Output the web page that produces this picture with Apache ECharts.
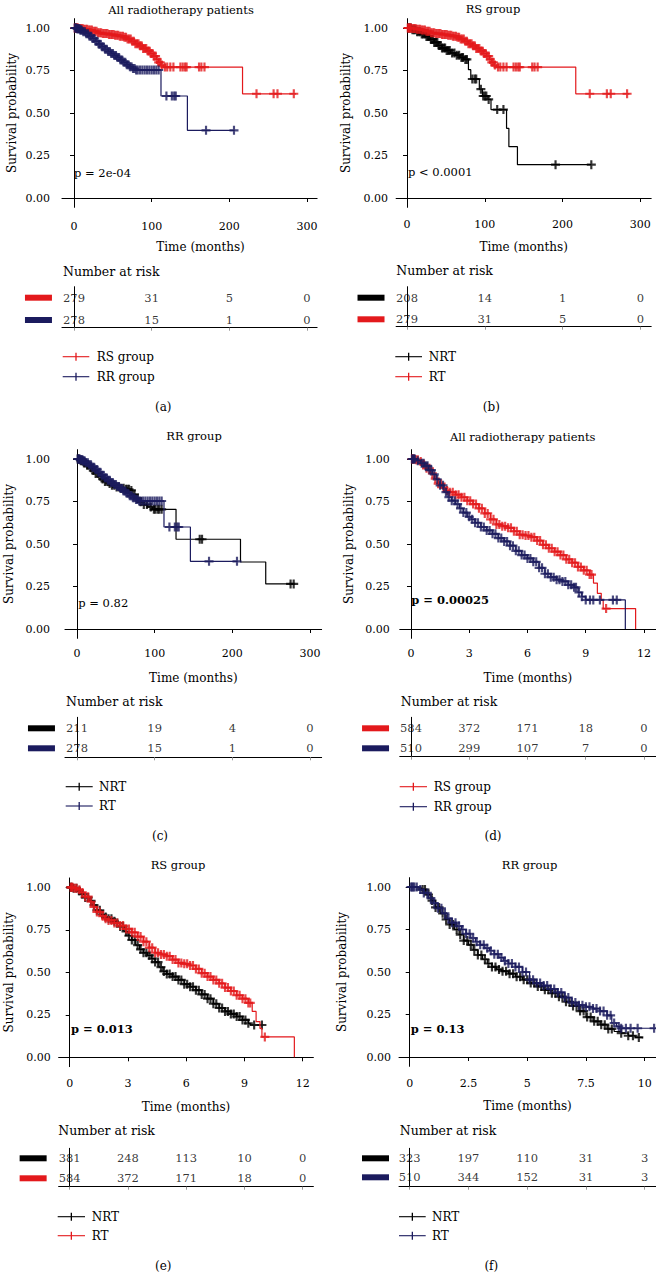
<!DOCTYPE html>
<html><head><meta charset="utf-8">
<script src="https://cdn.jsdelivr.net/npm/echarts@6/dist/echarts.min.js"></script>
<style>html,body{margin:0;padding:0;background:#fff}#c{width:656px;height:1274px}</style>
</head><body><div id="c"></div>
<script>
const FONT = '"DejaVu Serif", serif';
const RED = '#e3191c', NAVY = '#1b1b5e', BLACK = '#000000';

// ---------- tick labels ----------
const ticksMonths = [0, 100, 200, 300];
const ticks12 = [0, 3, 6, 9, 12];
const ticks10 = [0, 2.5, 5, 7.5, 10];
const survTicks = [0, 0.25, 0.5, 0.75, 1];

// ---------- KM curves (time, survival) and censor times ----------
// RS group, all radiotherapy patients (months scale) – panels a, b
const rsAllSteps = [[0,1],[6,0.997],[12,0.993],[18,0.988],[24,0.981],[30,0.972],[36,0.967],[44,0.962],[52,0.957],[58,0.952],[64,0.945],[69,0.935],[74,0.922],[79,0.908],[84,0.895],[89,0.88],[94,0.865],[98,0.85],[102,0.835],[106,0.815],[109,0.798],[112,0.782],[115,0.77],[217,0.613],[286,0.613]];
const rsAllCensor = [1,2,3,4,5,7,9,11,13,15,17,19,21,23,25,27,29,31,33,35,37,39,41,43,45,47,49,51,53,55,57,59,61,63,65,67,69,71,73,75,77,79,81,83,85,87,89,91,93,95,97,99,101,103,105,107,109,111,113,117,120,124,128,137,140,143,145,161,164,168,235,257,262,283];
// RR group, all radiotherapy patients – panels a, c
const rrAllSteps = [[0,1],[4,0.996],[8,0.988],[12,0.978],[16,0.966],[20,0.952],[24,0.938],[28,0.922],[32,0.905],[36,0.89],[40,0.875],[44,0.862],[48,0.85],[52,0.838],[56,0.826],[60,0.812],[64,0.798],[68,0.784],[72,0.772],[76,0.762],[80,0.753],[112,0.6],[146,0.398],[207,0.398]];
const rrAllCensor = [1,2,3,4,5,6,7,8,9,10,12,14,16,18,20,22,24,26,28,30,32,34,36,38,40,42,44,46,48,50,52,54,56,58,60,62,64,66,68,70,72,74,76,78,80,82,85,88,91,94,97,100,103,106,109,119,126,129,131,170,206];
// NRT in RS group – panel b
const nrtRsSteps = [[0,1],[6,0.99],[12,0.978],[18,0.965],[24,0.95],[30,0.933],[35,0.915],[40,0.897],[45,0.882],[50,0.868],[56,0.853],[62,0.84],[68,0.827],[73,0.815],[79,0.755],[82,0.7],[93,0.64],[97,0.6],[104,0.58],[108,0.52],[128,0.41],[131,0.302],[142,0.196],[237,0.196]];
const nrtRsCensor = [2,3,5,7,9,11,13,15,17,19,21,23,25,27,29,31,33,35,37,39,41,43,45,47,49,51,53,55,58,61,64,67,70,72,75,77,84,87,89,95,98,100,102,105,116,124,191,237];
// NRT in RR group – panel c
const nrtRrSteps = [[0,1],[4,0.99],[8,0.977],[12,0.963],[16,0.948],[20,0.932],[24,0.915],[28,0.898],[32,0.882],[36,0.868],[40,0.856],[45,0.846],[50,0.836],[56,0.828],[62,0.822],[68,0.815],[72,0.792],[76,0.768],[80,0.748],[85,0.732],[91,0.718],[97,0.704],[127.5,0.528],[210.5,0.394],[243,0.265],[279,0.265]];
const nrtRrCensor = [1,3,5,7,9,11,13,15,18,21,24,27,30,33,36,39,42,45,48,51,54,57,60,63,65,67,70,74,78,82,86,90,95,99,101,104,106,109,158,161,275,279];

// RS group (time scale 0-12) – panels d, e
const rsTSteps = [[0,1],[0.2,0.995],[0.4,0.985],[0.6,0.97],[0.8,0.945],[1.0,0.915],[1.2,0.885],[1.4,0.855],[1.6,0.83],[1.8,0.815],[2.0,0.805],[2.3,0.79],[2.6,0.775],[2.9,0.755],[3.2,0.735],[3.5,0.71],[3.8,0.68],[4.1,0.645],[4.4,0.615],[4.7,0.605],[5.0,0.595],[5.3,0.575],[5.6,0.555],[5.9,0.55],[6.2,0.54],[6.5,0.52],[6.8,0.495],[7.1,0.475],[7.4,0.455],[7.7,0.435],[8.0,0.41],[8.3,0.39],[8.6,0.365],[8.9,0.345],[9.2,0.32],[9.4,0.27],[9.6,0.21],[9.8,0.17],[9.9,0.12],[11.57,0]];
const rsTCensor = [0.05,0.1,0.15,0.25,0.35,0.5,0.65,0.8,0.95,1.1,1.25,1.4,1.55,1.7,1.85,2.0,2.15,2.3,2.45,2.6,2.75,2.9,3.05,3.2,3.35,3.5,3.65,3.8,3.95,4.1,4.25,4.4,4.55,4.7,4.85,5.0,5.15,5.3,5.45,5.6,5.75,5.9,6.05,6.2,6.35,6.5,6.65,6.8,6.95,7.1,7.25,7.4,7.55,7.7,7.85,8.0,8.15,8.3,8.45,8.6,8.75,8.9,9.05,9.2,9.3,10.05];
// RR group (time scale 0-12) – panel d
const rrTSteps = [[0,1],[0.3,0.99],[0.5,0.975],[0.7,0.96],[0.9,0.935],[1.1,0.91],[1.3,0.88],[1.5,0.845],[1.7,0.805],[1.9,0.775],[2.1,0.755],[2.3,0.735],[2.5,0.71],[2.7,0.685],[2.9,0.66],[3.1,0.645],[3.3,0.625],[3.6,0.6],[3.9,0.58],[4.2,0.56],[4.5,0.535],[4.8,0.515],[5.1,0.49],[5.4,0.46],[5.7,0.435],[6.0,0.415],[6.3,0.395],[6.6,0.36],[6.9,0.325],[7.2,0.305],[7.5,0.29],[7.8,0.28],[8.1,0.26],[8.4,0.245],[8.6,0.215],[8.8,0.19],[9.0,0.171],[11.04,0]];
const rrTCensor = [0.05,0.1,0.15,0.2,0.35,0.55,0.65,0.75,0.85,0.95,1.05,1.2,1.35,1.5,1.65,1.8,1.95,2.1,2.25,2.4,2.55,2.7,2.85,3.0,3.15,3.3,3.45,3.6,3.75,3.9,4.05,4.2,4.35,4.5,4.65,4.8,4.95,5.1,5.25,5.4,5.55,5.7,5.85,6.0,6.15,6.3,6.45,6.6,6.75,6.9,7.05,7.2,7.35,7.5,7.65,7.8,7.95,8.1,8.25,8.4,8.5,8.65,8.8,9.0,9.22,9.39,9.73,10.4,10.6];
// NRT in RS group (time) – panel e
const nrtRsTSteps = [[0,1],[0.2,0.995],[0.4,0.98],[0.6,0.96],[0.8,0.94],[1.0,0.92],[1.2,0.895],[1.4,0.865],[1.6,0.84],[1.8,0.825],[2.0,0.815],[2.2,0.8],[2.4,0.79],[2.6,0.77],[2.8,0.74],[3.0,0.715],[3.2,0.69],[3.4,0.66],[3.6,0.635],[3.8,0.615],[4.0,0.6],[4.2,0.58],[4.4,0.56],[4.6,0.53],[4.8,0.505],[5.0,0.49],[5.3,0.475],[5.6,0.455],[5.9,0.43],[6.2,0.415],[6.5,0.395],[6.8,0.37],[7.1,0.345],[7.4,0.315],[7.7,0.29],[8.0,0.27],[8.3,0.255],[8.6,0.24],[8.9,0.22],[9.2,0.2],[9.3,0.19],[9.97,0.19]];
const nrtRsTCensor = [0.05,0.1,0.2,0.35,0.5,0.65,0.8,0.95,1.1,1.25,1.4,1.55,1.7,1.85,2.0,2.15,2.3,2.45,2.6,2.75,2.9,3.05,3.2,3.35,3.5,3.65,3.8,3.95,4.1,4.25,4.4,4.55,4.7,4.85,5.0,5.15,5.3,5.45,5.6,5.75,5.9,6.05,6.2,6.35,6.5,6.65,6.8,6.95,7.1,7.25,7.4,7.55,7.7,7.85,8.0,8.15,8.3,8.45,8.6,8.75,8.9,9.05,9.2,9.5,9.9];
// NRT in RR group (time 0-10) – panel f
const nrtRrTSteps = [[0,1],[0.3,0.995],[0.5,0.985],[0.7,0.955],[0.9,0.92],[1.1,0.88],[1.3,0.845],[1.5,0.81],[1.7,0.78],[1.9,0.75],[2.1,0.72],[2.3,0.685],[2.5,0.66],[2.7,0.63],[2.9,0.6],[3.1,0.575],[3.3,0.55],[3.5,0.53],[3.7,0.515],[3.9,0.505],[4.2,0.49],[4.5,0.472],[4.8,0.455],[5.1,0.435],[5.4,0.415],[5.7,0.395],[6.0,0.375],[6.3,0.355],[6.6,0.325],[6.9,0.3],[7.2,0.27],[7.5,0.235],[7.8,0.21],[8.1,0.19],[8.4,0.165],[8.7,0.15],[9.0,0.14],[9.3,0.125],[9.6,0.115],[9.9,0.11]];
const nrtRrTCensor = [0.55,0.65,0.8,0.95,1.1,1.25,1.4,1.55,1.7,1.85,2.0,2.15,2.3,2.45,2.6,2.75,2.9,3.05,3.2,3.35,3.5,3.65,3.8,3.95,4.1,4.25,4.4,4.55,4.7,4.85,5.0,5.15,5.3,5.45,5.6,5.75,5.9,6.05,6.2,6.35,6.5,6.65,6.8,6.95,7.1,7.25,7.4,7.55,7.7,7.85,8.0,8.15,8.3,8.45,8.6,9.0,9.3,9.5,9.75];
// RT in RR group (time 0-10) – panel f
const rtRrTSteps = [[0,1],[0.4,0.985],[0.6,0.965],[0.8,0.935],[1.0,0.905],[1.2,0.875],[1.4,0.845],[1.6,0.815],[1.8,0.79],[2.0,0.77],[2.2,0.75],[2.4,0.725],[2.6,0.7],[2.8,0.678],[3.0,0.66],[3.2,0.64],[3.4,0.625],[3.6,0.605],[3.8,0.585],[4.0,0.565],[4.2,0.55],[4.5,0.53],[4.8,0.5],[5.1,0.455],[5.4,0.435],[5.7,0.42],[6.0,0.4],[6.3,0.38],[6.6,0.35],[6.9,0.32],[7.2,0.305],[7.5,0.295],[7.8,0.285],[8.1,0.27],[8.4,0.245],[8.6,0.2],[8.8,0.18],[8.95,0.169],[10.48,0.169]];
const rtRrTCensor = [0.05,0.1,0.15,0.2,0.3,0.45,0.6,0.75,0.9,1.05,1.2,1.35,1.5,1.65,1.8,1.95,2.1,2.25,2.4,2.55,2.7,2.85,3.0,3.15,3.3,3.45,3.6,3.75,3.9,4.05,4.2,4.35,4.5,4.65,4.8,4.95,5.1,5.25,5.4,5.55,5.7,5.85,6.0,6.15,6.3,6.45,6.6,6.75,6.9,7.05,7.2,7.35,7.5,7.65,7.8,7.95,8.1,8.25,8.4,8.55,8.7,8.9,9.0,9.2,9.4,9.7,10.4];

// ---------- numbers at risk ----------
const riskA_RS = [279, 31, 5, 0], riskA_RR = [278, 15, 1, 0];
const riskB_NRT = [208, 14, 1, 0], riskB_RT = [279, 31, 5, 0];
const riskC_NRT = [211, 19, 4, 0], riskC_RT = [278, 15, 1, 0];
const riskD_RS = [584, 372, 171, 18, 0], riskD_RR = [510, 299, 107, 7, 0];
const riskE_NRT = [381, 248, 113, 10, 0], riskE_RT = [584, 372, 171, 18, 0];
const riskF_NRT = [323, 197, 110, 31, 3], riskF_RT = [510, 344, 152, 31, 3];

// ---------- panel layout ----------
const panels = [
  {title:'All radiotherapy patients', tX:181, tY:10, x0:74, ppu:233/300, xmin:-15.5, xmax:313, y1:28, y0:198,
   ticks:ticksMonths, xm:14, nameGap:34, namePad:22, ym:12, yGap:44,
   p:'p = 2e-04', pX:74, pY:173, pBold:false,
   curves:[{name:'RS group', color:RED, steps:rsAllSteps, censor:rsAllCensor},{name:'RR group', color:NAVY, steps:rrAllSteps, censor:rrAllCensor}],
   risk:{rows:[riskA_RS, riskA_RR], rowTop:297.7, rowBot:320, bottom:327.7, top:286.7, narX:63, narY:271, barM:10},
   leg:{x1:62.7, x2:89.3, tx:96.7, ys:[356.7,376.7]}, cap:'(a)', cX:163.3, cY:407},
  {title:'RS group', tX:493, tY:9, x0:407, ppu:0.7777, xmin:-14, xmax:314, y1:28, y0:198,
   ticks:ticksMonths, xm:12, nameGap:34, namePad:0, ym:8, yGap:44,
   p:'p < 0.0001', pX:408, pY:172, pBold:false,
   curves:[{name:'NRT', color:BLACK, steps:nrtRsSteps, censor:nrtRsCensor},{name:'RT', color:RED, steps:rsAllSteps, censor:rsAllCensor}],
   risk:{rows:[riskB_NRT, riskB_RT], rowTop:297.7, rowBot:319.3, bottom:326.7, top:286.7, narX:396.3, narY:270, barM:11.6},
   leg:{x1:395.3, x2:422, tx:428.7, ys:[356.7,376.7]}, cap:'(b)', cX:491.3, cY:406.7},
  {title:'RR group', tX:194, tY:436, x0:77, ppu:233/300, xmin:-15.5, xmax:315, y1:459, y0:629,
   ticks:ticksMonths, xm:10, nameGap:34, namePad:0, ym:15, yGap:50,
   p:'p = 0.82', pX:78.3, pY:602.7, pBold:false,
   curves:[{name:'NRT', color:BLACK, steps:nrtRrSteps, censor:nrtRrCensor},{name:'RT', color:NAVY, steps:rrAllSteps, censor:rrAllCensor}],
   risk:{rows:[riskC_NRT, riskC_RT], rowTop:728.3, rowBot:748.3, bottom:757.3, top:717.3, narX:66, narY:701.7, barM:10},
   leg:{x1:65.7, x2:92.7, tx:99, ys:[786.7,806]}, cap:'(c)', cX:160, cY:836},
  {title:'All radiotherapy patients', tX:522.7, tY:436.7, x0:411, ppu:233/12, xmin:-0.58, xmax:12.62, y1:459, y0:629,
   ticks:ticks12, xm:10, nameGap:34, namePad:0, ym:10, yGap:45,
   p:'p = 0.00025', pX:411.3, pY:600, pBold:true,
   curves:[{name:'RS group', color:RED, steps:rsTSteps, censor:rsTCensor},{name:'RR group', color:NAVY, steps:rrTSteps, censor:rrTCensor}],
   risk:{rows:[riskD_RS, riskD_RR], rowTop:728.3, rowBot:748.3, bottom:756.7, top:717.3, narX:400.7, narY:701.7, barM:10.7},
   leg:{x1:399.7, x2:427, tx:433.7, ys:[786.7,806.7]}, cap:'(d)', cX:493, cY:836},
  {title:'RS group', tX:178, tY:865, x0:69.7, ppu:233/12, xmin:-0.57, xmax:12.55, y1:887.3, y0:1057.3,
   ticks:ticks12, xm:11, nameGap:34, namePad:0, ym:8, yGap:44,
   p:'p = 0.013', pX:71, pY:1029.3, pBold:true,
   curves:[{name:'NRT', color:BLACK, steps:nrtRsTSteps, censor:nrtRsTCensor},{name:'RT', color:RED, steps:rsTSteps, censor:rsTCensor}],
   risk:{rows:[riskE_NRT, riskE_RT], rowTop:1158.3, rowBot:1178.3, bottom:1186.7, top:1148.3, narX:58.3, narY:1130, barM:12},
   leg:{x1:57.7, x2:85, tx:91.7, ys:[1216.7,1235.7]}, cap:'(e)', cX:163.3, cY:1265.7},
  {title:'RR group', tX:529.5, tY:865, x0:409.7, ppu:23.5, xmin:-0.455, xmax:10.48, y1:887, y0:1057,
   ticks:ticks10, xm:12, nameGap:34, namePad:0, ym:8, yGap:51,
   p:'p = 0.13', pX:410.7, pY:1029.3, pBold:true,
   curves:[{name:'NRT', color:BLACK, steps:nrtRrTSteps, censor:nrtRrTCensor},{name:'RT', color:NAVY, steps:rtRrTSteps, censor:rtRrTCensor}],
   risk:{rows:[riskF_NRT, riskF_RT], rowTop:1158.3, rowBot:1177.3, bottom:1186.7, top:1148.3, narX:399.7, narY:1130, barM:10},
   leg:{x1:399, x2:425.7, tx:432, ys:[1216.7,1235.7]}, cap:'(f)', cX:491.3, cY:1265.7}
];

const PLUS = 'path://M3.8,0L6.2,0L6.2,3.8L10,3.8L10,6.2L6.2,6.2L6.2,10L3.8,10L3.8,6.2L0,6.2L0,3.8L3.8,3.8Z';
const option = {animation:false, backgroundColor:'#ffffff', grid:[], xAxis:[], yAxis:[], series:[], graphic:[]};
const G = option.graphic;
function txt(text, x, y, o) {
  o = o || {};
  const al = o.align || 'left';
  G.push({type:'text', x:x, y:y, silent:true, z:10,
    style:{text:text, fill:'#000', font:(o.bold?'bold ':'') + (o.size||11) + 'px ' + FONT,
      textAlign:al, textVerticalAlign:'middle', align:al, verticalAlign:'middle'}});
}
function survAt(steps, t) {
  let s = steps[0][1];
  for (const p of steps) { if (p[0] <= t) s = p[1]; else break; }
  return s;
}
const tickTxt = {fontFamily:FONT, fontSize:11, color:'#000'};
const nameTxt = {fontFamily:FONT, fontSize:12, color:'#000'};

panels.forEach(function (P) {
  const left = P.x0 + P.xmin * P.ppu, width = (P.xmax - P.xmin) * P.ppu;
  const ppy = P.y0 - P.y1, ymin = -0.055, ymax = 1.055;
  const top = P.y1 - (ymax - 1) * ppy, height = (ymax - ymin) * ppy;
  const gi = option.grid.length;
  option.grid.push({left:left, top:top, width:width, height:height});
  option.xAxis.push({gridIndex:gi, type:'value', min:P.xmin, max:P.xmax,
    name:'Time (months)', nameLocation:'middle', nameGap:P.nameGap,
    nameTextStyle:Object.assign({padding:[0,0,0,P.namePad]}, nameTxt),
    axisLine:{show:true, lineStyle:{color:'#000', width:1}},
    axisTick:{show:true, customValues:P.ticks, length:4, lineStyle:{color:'#000'}},
    axisLabel:Object.assign({customValues:P.ticks, margin:P.xm, formatter:function(v){return String(v);}}, tickTxt),
    splitLine:{show:false}});
  option.yAxis.push({gridIndex:gi, type:'value', min:ymin, max:ymax,
    name:'Survival probability', nameLocation:'middle', nameGap:P.yGap, nameTextStyle:nameTxt,
    axisLine:{show:true, lineStyle:{color:'#000', width:1}},
    axisTick:{show:true, customValues:survTicks, length:4, lineStyle:{color:'#000'}},
    axisLabel:Object.assign({customValues:survTicks, margin:P.ym, formatter:function(v){return v.toFixed(2);}}, tickTxt),
    splitLine:{show:false}});
  P.curves.forEach(function (c, k) {
    option.series.push({type:'line', name:c.name, xAxisIndex:gi, yAxisIndex:gi, step:'end', data:c.steps,
      showSymbol:false, symbol:'none', silent:true, z:2 + k * 2,
      lineStyle:{color:c.color, width:1.2}, itemStyle:{color:c.color}});
    option.series.push({type:'scatter', name:c.name, xAxisIndex:gi, yAxisIndex:gi, symbol:PLUS, symbolSize:9,
      silent:true, z:3 + k * 2, itemStyle:{color:c.color},
      data:c.censor.map(function (t) { return [t, survAt(c.steps, t)]; })});
  });
  // risk table
  const R = P.risk, rpp = R.rowBot - R.rowTop;
  const rmin = 1 - (R.bottom - R.rowBot) / rpp, rmax = 2 + (R.rowTop - R.top) / rpp;
  const ri = option.grid.length;
  option.grid.push({left:left, top:R.top, width:width, height:R.bottom - R.top});
  option.xAxis.push({gridIndex:ri, type:'value', min:P.xmin, max:P.xmax,
    axisLine:{show:true, lineStyle:{color:'#000', width:1}},
    axisTick:{show:true, customValues:P.ticks, length:3, lineStyle:{color:'#999'}},
    axisLabel:{show:false}, splitLine:{show:false}});
  const cols = P.curves.map(function (c) { return c.color; });
  option.yAxis.push({gridIndex:ri, type:'value', min:rmin, max:rmax,
    axisLine:{show:true, lineStyle:{color:'#000', width:1}},
    axisTick:{show:false}, splitLine:{show:false},
    axisLabel:{customValues:[1,2], margin:R.barM, fontSize:1, lineHeight:6, formatter:function(v){return v === 2 ? '{t| }' : '{b| }';},
      rich:{t:{backgroundColor:cols[0], width:27, height:6, lineHeight:6, fontSize:1}, b:{backgroundColor:cols[1], width:27, height:6, lineHeight:6, fontSize:1}}}});
  R.rows.forEach(function (row, k) {
    const rv = k === 0 ? 2 : 1;
    option.series.push({type:'scatter', xAxisIndex:ri, yAxisIndex:ri, symbolSize:1, silent:true,
      itemStyle:{color:'transparent'},
      label:{show:true, position:'inside', formatter:function(p){return String(p.value[2]);},
        fontFamily:FONT, fontSize:11.5, color:'#000'},
      data:row.map(function (n, j) { return [P.ticks[j], rv, n]; })});
  });
  // texts
  txt(P.title, P.tX, P.tY, {align:'center', size:11.5});
  txt(P.p, P.pX, P.pY, {bold:P.pBold, size:11.5});
  txt('Number at risk', R.narX, R.narY, {size:12.5});
  txt(P.cap, P.cX, P.cY, {align:'center', size:12});
  P.curves.forEach(function (c, k) {
    const y = P.leg.ys[k], xm = (P.leg.x1 + P.leg.x2) / 2;
    G.push({type:'line', silent:true, shape:{x1:P.leg.x1, y1:y, x2:P.leg.x2, y2:y}, style:{stroke:c.color, lineWidth:1.1}});
    G.push({type:'line', silent:true, shape:{x1:xm, y1:y - 4, x2:xm, y2:y + 4}, style:{stroke:c.color, lineWidth:1.3}});
    txt(c.name, P.leg.tx, y, {size:12});
  });
});

const chart = echarts.init(document.getElementById('c'), null, {renderer:'svg', width:656, height:1274});
chart.setOption(option);
</script>
</body></html>
